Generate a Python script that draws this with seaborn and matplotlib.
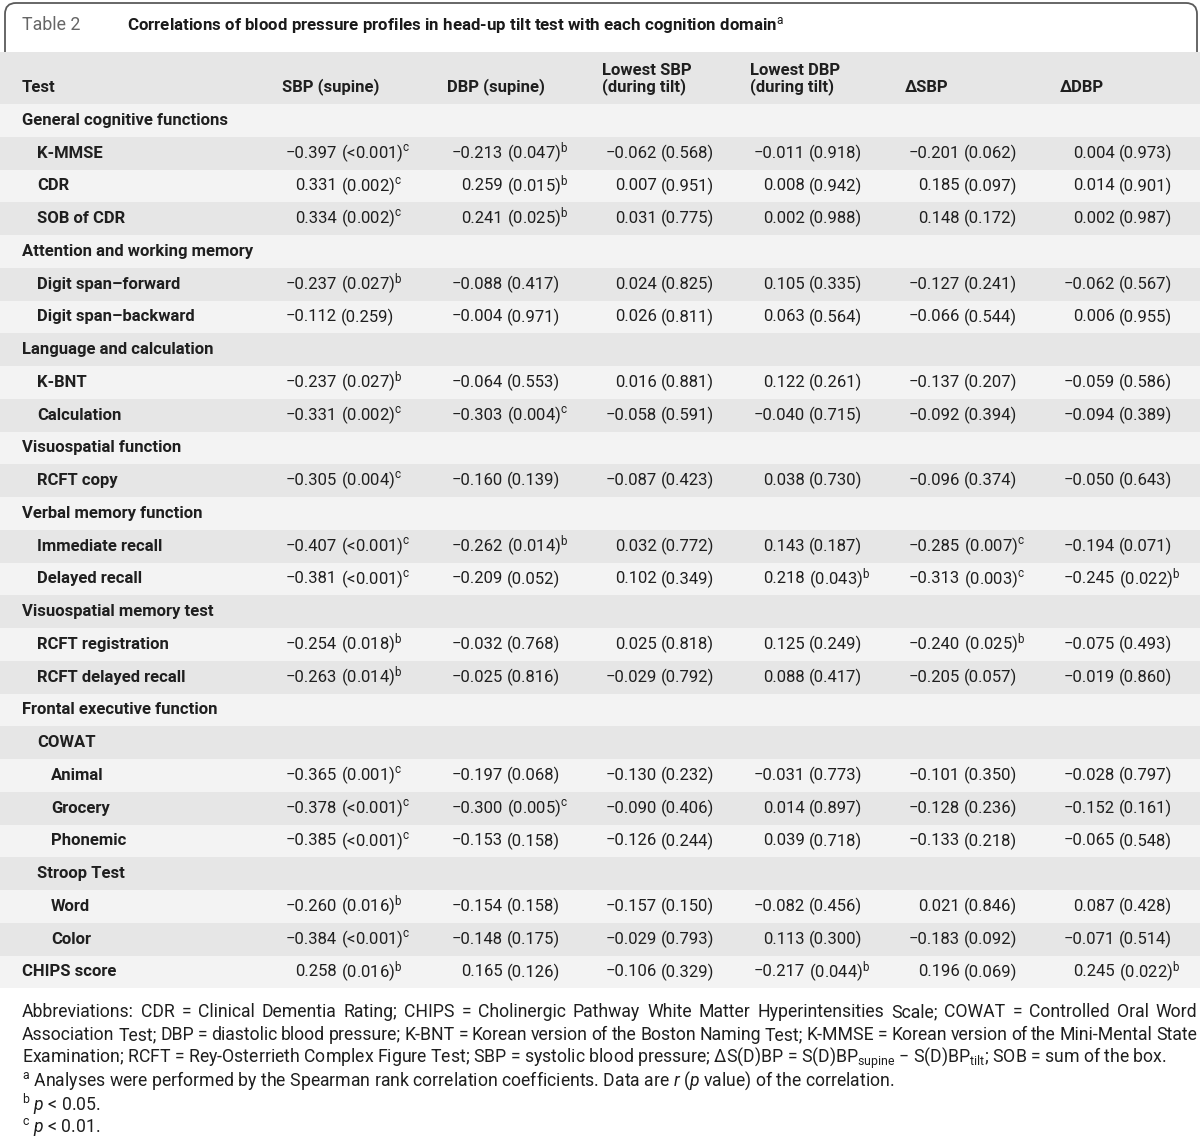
import matplotlib
matplotlib.use("Agg")
import matplotlib.pyplot as plt
from matplotlib.colors import ListedColormap
from matplotlib.path import Path
from matplotlib.patches import PathPatch
import numpy as np
import seaborn as sns

# --- Table content ---
row_labels = [
    "General cognitive functions", "K-MMSE", "CDR", "SOB of CDR",
    "Attention and working memory", "Digit span\u2013forward", "Digit span\u2013backward",
    "Language and calculation", "K-BNT", "Calculation",
    "Visuospatial function", "RCFT copy",
    "Verbal memory function", "Immediate recall", "Delayed recall",
    "Visuospatial memory test", "RCFT registration", "RCFT delayed recall",
    "Frontal executive function", "COWAT", "Animal", "Grocery", "Phonemic",
    "Stroop Test", "Word", "Color", "CHIPS score",
]
row_levels = [0, 1, 1, 1, 0, 1, 1, 0, 1, 1, 0, 1, 0, 1, 1, 0, 1, 1, 0, 1, 2, 2, 2, 1, 2, 2, 0]
section_rows = [0, 4, 7, 10, 12, 15, 18, 19, 23]

col_headers = [
    ["SBP (supine)"], ["DBP (supine)"], ["Lowest SBP", "(during tilt)"],
    ["Lowest DBP", "(during tilt)"], ["\u0394SBP"], ["\u0394DBP"],
]

# Spearman r and p value for the 18 data rows, one pair of lists per column
sbp_supine_r = [-0.397, 0.331, 0.334, -0.237, -0.112, -0.237, -0.331, -0.305, -0.407,
                -0.381, -0.254, -0.263, -0.365, -0.378, -0.385, -0.260, -0.384, 0.258]
sbp_supine_p = ["<0.001", "0.002", "0.002", "0.027", "0.259", "0.027", "0.002", "0.004", "<0.001",
                "<0.001", "0.018", "0.014", "0.001", "<0.001", "<0.001", "0.016", "<0.001", "0.016"]

dbp_supine_r = [-0.213, 0.259, 0.241, -0.088, -0.004, -0.064, -0.303, -0.160, -0.262,
                -0.209, -0.032, -0.025, -0.197, -0.300, -0.153, -0.154, -0.148, 0.165]
dbp_supine_p = ["0.047", "0.015", "0.025", "0.417", "0.971", "0.553", "0.004", "0.139", "0.014",
                "0.052", "0.768", "0.816", "0.068", "0.005", "0.158", "0.158", "0.175", "0.126"]

low_sbp_r = [-0.062, 0.007, 0.031, 0.024, 0.026, 0.016, -0.058, -0.087, 0.032,
             0.102, 0.025, -0.029, -0.130, -0.090, -0.126, -0.157, -0.029, -0.106]
low_sbp_p = ["0.568", "0.951", "0.775", "0.825", "0.811", "0.881", "0.591", "0.423", "0.772",
             "0.349", "0.818", "0.792", "0.232", "0.406", "0.244", "0.150", "0.793", "0.329"]

low_dbp_r = [-0.011, 0.008, 0.002, 0.105, 0.063, 0.122, -0.040, 0.038, 0.143,
             0.218, 0.125, 0.088, -0.031, 0.014, 0.039, -0.082, 0.113, -0.217]
low_dbp_p = ["0.918", "0.942", "0.988", "0.335", "0.564", "0.261", "0.715", "0.730", "0.187",
             "0.043", "0.249", "0.417", "0.773", "0.897", "0.718", "0.456", "0.300", "0.044"]

d_sbp_r = [-0.201, 0.185, 0.148, -0.127, -0.066, -0.137, -0.092, -0.096, -0.285,
           -0.313, -0.240, -0.205, -0.101, -0.128, -0.133, 0.021, -0.183, 0.196]
d_sbp_p = ["0.062", "0.097", "0.172", "0.241", "0.544", "0.207", "0.394", "0.374", "0.007",
           "0.003", "0.025", "0.057", "0.350", "0.236", "0.218", "0.846", "0.092", "0.069"]

d_dbp_r = [0.004, 0.014, 0.002, -0.062, 0.006, -0.059, -0.094, -0.050, -0.194,
           -0.245, -0.075, -0.019, -0.028, -0.152, -0.065, 0.087, -0.071, 0.245]
d_dbp_p = ["0.973", "0.901", "0.987", "0.567", "0.955", "0.586", "0.389", "0.643", "0.071",
           "0.022", "0.493", "0.860", "0.797", "0.161", "0.548", "0.428", "0.514", "0.022"]

columns_r = [sbp_supine_r, dbp_supine_r, low_sbp_r, low_dbp_r, d_sbp_r, d_dbp_r]
columns_p = [sbp_supine_p, dbp_supine_p, low_sbp_p, low_dbp_p, d_sbp_p, d_dbp_p]

footnotes_justified = [
    "Abbreviations: CDR = Clinical Dementia Rating; CHIPS = Cholinergic Pathway White Matter "
    "Hyperintensities Scale; COWAT = Controlled Oral Word",
    "Association Test; DBP = diastolic blood pressure; K-BNT = Korean version of the Boston "
    "Naming Test; K-MMSE = Korean version of the Mini-Mental State",
]
footnotes_plain = [
    "Examination; RCFT = Rey-Osterrieth Complex Figure Test; SBP = systolic blood pressure; "
    "\u0394S(D)BP = S(D)BP$_{\\mathrm{supine}}$ \u2212 S(D)BP$_{\\mathrm{tilt}}$; SOB = sum of the box.",
    "$^{\\mathrm{a}}$ Analyses were performed by the Spearman rank correlation coefficients. "
    "Data are $\\mathit{r}$ ($\\mathit{p}$ value) of the correlation.",
    "$^{\\mathrm{b}}$ $\\mathit{p}$ < 0.05.",
    "$^{\\mathrm{c}}$ $\\mathit{p}$ < 0.01.",
]


def sig_mark(p):
    v = 0.0005 if p.startswith("<") else float(p)
    if v < 0.01:
        return "c"
    if v < 0.05:
        return "b"
    return ""


def fmt_r(r):
    return ("\u2212" if r < 0 else "") + f"{abs(r):.3f}"


# --- Style ---
sns.set_style("white")
plt.rcParams["font.family"] = ["Roboto", "DejaVu Sans"]
plt.rcParams["mathtext.fontset"] = "custom"
plt.rcParams["mathtext.rm"] = "Roboto"
plt.rcParams["mathtext.it"] = "Roboto:italic"
plt.rcParams["mathtext.bf"] = "Roboto:bold"

W, H = 1200, 1138
TEXT = "#1f1f1f"
FS = 12
FS_FOOT = 12.7
header_top, header_bot = 52, 104
row_h = 32.75
n_rows = len(row_labels)
table_bot = header_bot + row_h * n_rows

fig = plt.figure(figsize=(W / 100, H / 100), dpi=100)

# alternating row shading drawn as a one-column heatmap
stripe_ax = fig.add_axes([0, 1 - table_bot / H, 1, (table_bot - header_bot) / H])
stripes = (np.arange(n_rows) % 2).reshape(-1, 1)
sns.heatmap(stripes, cmap=ListedColormap(["#f3f3f3", "#e6e6e6"]), vmin=0, vmax=1,
            cbar=False, xticklabels=False, yticklabels=False, ax=stripe_ax)
stripe_ax.axis("off")

ax = fig.add_axes([0, 0, 1, 1])
ax.set_xlim(0, W)
ax.set_ylim(H, 0)
ax.axis("off")

# header band
ax.axhspan(header_top, header_bot, color="#e6e6e6", lw=0, zorder=0)

# rounded tab around the title
verts = [(5, 52), (5, 14), (5, 3), (16, 3), (1186, 3), (1197, 3), (1197, 14), (1197, 52)]
codes = [Path.MOVETO, Path.LINETO, Path.CURVE3, Path.CURVE3, Path.LINETO,
         Path.CURVE3, Path.CURVE3, Path.LINETO]
ax.add_patch(PathPatch(Path(verts, codes), fill=False, ec="#5a5a5a", lw=1.3))

ax.text(22, 25, "Table 2", ha="left", va="center", fontsize=12.8, color="#666666")
ax.text(127, 25, "Correlations of blood pressure profiles in head-up tilt test with each "
        "cognition domain$^{\\mathrm{a}}$", ha="left", va="center", fontsize=12.2,
        fontweight="bold", color="#1a1a1a")

# column headers
header_x = [282, 447, 602, 750, 905, 1060]
ax.text(22, 87, "Test", ha="left", va="center", fontsize=FS, fontweight="bold", color=TEXT)
for x, lines in zip(header_x, col_headers):
    ys = [87] if len(lines) == 1 else [70, 87]
    for y, line in zip(ys, lines):
        ax.text(x, y, line, ha="left", va="center", fontsize=FS, fontweight="bold", color=TEXT)

# body
indent = [22, 37, 51]
r_right = [337, 503, 657, 805, 960, 1115]
data_i = 0
for i, (label, lvl) in enumerate(zip(row_labels, row_levels)):
    y = header_bot + row_h * (i + 0.5)
    ax.text(indent[lvl], y, label, ha="left", va="center", fontsize=FS,
            fontweight="bold", color=TEXT)
    if i in section_rows:
        continue
    for c in range(6):
        r = columns_r[c][data_i]
        p = columns_p[c][data_i]
        mark = sig_mark(p)
        ax.text(r_right[c], y, fmt_r(r), ha="right", va="center", fontsize=FS, color=TEXT)
        p_txt = f"({p})" + (f"$^{{\\mathrm{{{mark}}}}}$" if mark else "")
        ax.text(r_right[c] + 4, y, p_txt, ha="left", va="center", fontsize=FS, color=TEXT)
    data_i += 1

# footnotes
renderer = fig.canvas.get_renderer()
foot_y = [1012, 1035, 1058, 1081, 1104, 1127]
for y, line in zip(foot_y, footnotes_justified):
    words = line.split(" ")
    arts = [ax.text(0, y, w, ha="left", va="center", fontsize=FS_FOOT, color=TEXT) for w in words]
    widths = [a.get_window_extent(renderer).width for a in arts]
    gap = (1197 - 22 - sum(widths)) / (len(words) - 1)
    x = 22
    for a, w in zip(arts, widths):
        a.set_x(x)
        x += w + gap
for y, line in zip(foot_y[2:], footnotes_plain):
    ax.text(22, y, line, ha="left", va="center", fontsize=FS_FOOT, color=TEXT)

fig.savefig("out.png", dpi=100)
